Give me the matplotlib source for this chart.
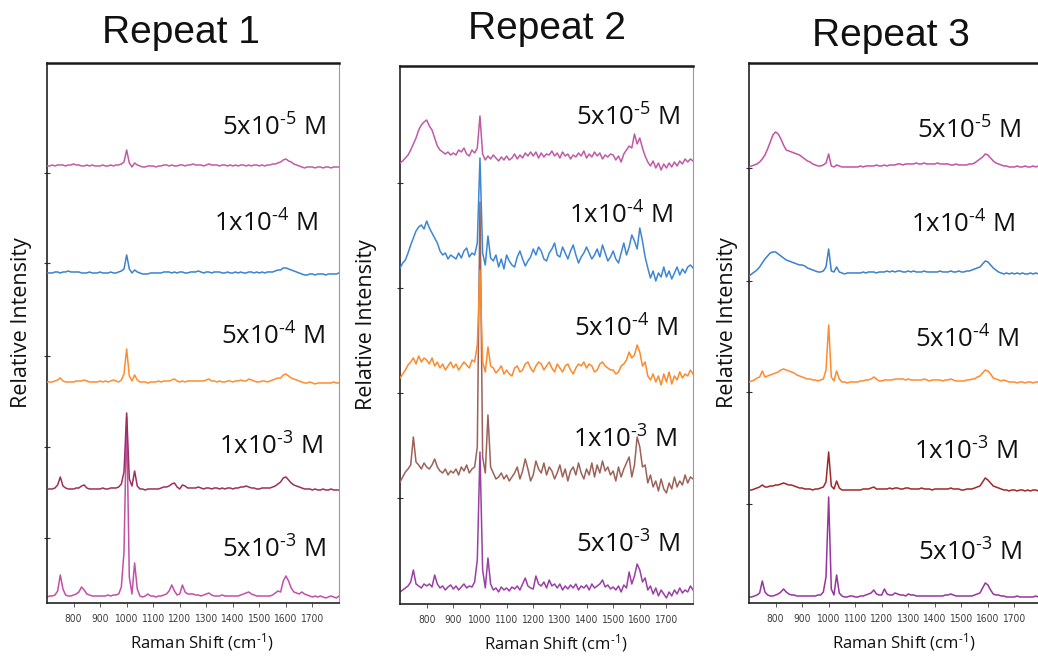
import matplotlib
matplotlib.use("Agg")
import matplotlib.pyplot as plt

plt.rcParams["mathtext.default"] = "regular"

# Raman shift grid (cm-1), shared by every spectrum
shift = list(range(700, 1810, 10))

HY = "\u2010"  # short hyphen for the exponents
labels = [f"5x10$^{{{HY}3}}$ M", f"1x10$^{{{HY}3}}$ M", f"5x10$^{{{HY}4}}$ M",
          f"1x10$^{{{HY}4}}$ M", f"5x10$^{{{HY}5}}$ M"]
titles = ["Repeat 1", "Repeat 2", "Repeat 3"]
xtick_values = list(range(800, 1800, 100))

# ---- Repeat 1 intensities (a.u., above each trace's baseline), bottom to top
r1_5e3 = [0, 1, 1, 2, 6, 22, 8, 2, 1, 1,
          2, 3, 5, 10, 7, 3, 2, 1, 1, 1,
          1, 1, 1, 2, 1, 2, 2, 3, 10, 45,
          180, 20, 3, 34, 8, 1, 0, 1, 3, 1,
          1, 0, 1, 1, 2, 3, 6, 12, 6, 2,
          3, 12, 5, 3, 3, 3, 2, 2, 1, 2,
          3, 4, 2, 1, 1, 1, 2, 1, 1, 1,
          1, 1, 1, 2, 3, 4, 5, 3, 2, 1,
          1, 1, 1, 1, 1, 2, 4, 6, 5, 16,
          21, 16, 9, 5, 4, 3, 5, 3, 2, 1,
          0, 1, 0, 1, 0, -1, 0, 1, 0, -1, 1]
r1_1e3 = [0, 0, 0, 1, 4, 12, 3, 1, 0, 0,
          0, 1, 1, 3, 4, 1, 0, 0, 0, 0,
          0, 1, 0, 0, 1, 1, 1, 2, 5, 17,
          76, 10, 3, 18, 3, 0, 0, -1, 0, 0,
          0, 0, 0, 1, 2, 2, 3, 5, 6, 2,
          0, 4, 3, 1, 1, 1, 1, 2, 1, 0,
          1, 1, 0, 1, 1, 0, 1, 0, 1, 1,
          0, 1, 1, 2, 2, 3, 2, 1, 1, 0,
          0, 1, 1, 1, 1, 2, 3, 5, 7, 11,
          12, 9, 6, 4, 3, 2, 1, 0, 0, 0,
          -1, 0, -1, -1, 0, -1, -1, 0, -1, -1, -1]
r1_5e4 = [0, 0, 0, 1, 2, 4, 1, 0, 0, 0,
          0, 1, 1, 1, 2, 1, 0, 0, 0, 0,
          1, 0, 1, 0, 1, 2, 1, 0, 2, 8,
          33, 6, 1, 7, 2, 0, 0, 0, -1, 0,
          0, 0, 1, 0, 1, 1, 1, 2, 3, 1,
          0, 1, 0, 1, 1, 1, 1, 1, 1, 1,
          2, 3, 1, 1, 0, 1, 0, 0, 1, 1,
          0, 1, 1, 2, 1, 1, 3, 2, 1, 0,
          0, 1, 1, 0, 1, 2, 3, 4, 4, 7,
          8, 6, 4, 3, 2, 1, 0, -1, -1, 0,
          -1, -2, -1, -1, -1, -1, -1, -1, 0, -1, -1]
r1_1e4 = [0, 0, 0, 1, 1, 0, 1, 1, 2, 1,
          1, 1, 1, 0, 0, 0, 1, 0, 0, 0,
          1, 0, 0, 0, 1, 0, 0, 1, 2, 4,
          18, 4, 0, 3, 1, 0, -1, -1, -1, 0,
          0, 0, 0, 0, 1, 1, 1, 0, 1, 0,
          1, 1, 0, 0, 1, 1, 1, 2, 1, 0,
          1, 1, 0, 1, 1, 1, 0, 0, 1, 0,
          0, 1, 0, 1, 0, 0, 1, 1, 0, 1,
          0, 1, 0, 1, 1, 1, 2, 3, 3, 5,
          5, 4, 3, 2, 1, 0, -1, -2, -2, -1,
          -1, -2, -1, -1, -1, -2, -1, -1, -1, -1, 0]
r1_5e5 = [0, 0, 1, 0, 1, 1, 1, 0, 1, 1,
          2, 1, 1, 0, 0, 1, 0, 1, 0, 0,
          0, 1, 0, 0, 1, 0, 1, 1, 2, 4,
          16, 3, -1, 3, 1, 0, -1, -1, 0, 0,
          0, -1, 0, 0, 1, 1, 0, 1, 0, 0,
          1, 1, 0, 1, 1, 2, 1, 1, 1, 0,
          1, 2, 1, 1, 1, 0, 1, 1, 0, 1,
          0, 1, 0, 1, 1, 0, 1, 0, 1, 1,
          0, 1, 0, 1, 1, 2, 2, 3, 4, 6,
          7, 5, 4, 2, 1, 0, -1, -2, -1, -1,
          -1, -2, -1, -1, -2, -1, -1, -2, -1, -1, -1]

# ---- Repeat 2
r2_5e3 = [-2, 0, 2, 4, 8, 20, 6, 4, 2, 6,
          4, 6, 3, 15, 6, 2, 4, 0, 3, 5,
          1, 4, 0, 3, 6, 2, 4, 3, 8, 30,
          138, 20, 2, 32, 6, 0, 2, -2, 3, 0,
          2, -1, 3, 1, 4, 0, 6, 12, 4, 2,
          1, 14, 6, 4, 8, 2, 10, 4, 6, 2,
          6, 0, 4, 1, 5, 2, 6, 0, 4, 2,
          5, 0, 6, 2, 4, 6, 10, 3, 5, 1,
          3, 0, 4, -2, 5, 2, 18, 6, 14, 26,
          20, 8, 12, 0, 4, -4, 2, -6, 0, -4,
          -8, -2, -6, 0, -4, 2, -3, 0, -2, 4, 0]
r2_1e3 = [-5, 0, 5, 8, 12, 40, 15, 12, 8, 14,
          10, 8, 12, 18, 10, 6, 4, 8, 2, 6,
          4, 8, 2, 10, 6, 12, 4, 8, 10, 30,
          275, 20, 4, 62, 10, 4, -2, 0, 4, -2,
          2, -4, 0, 4, 10, -2, 6, 18, 8, -4,
          2, 16, 8, 4, 14, 2, 10, 6, -2, 4,
          12, 0, 8, -4, 6, 10, 2, 14, 4, -2,
          8, 2, 14, 0, 12, 4, 16, 6, 10, 2,
          6, -4, 10, 0, 8, 14, 20, 0, 12, 40,
          30, 10, 12, -6, 2, -10, -4, -14, -2, -12,
          -16, -6, -12, 0, -10, -4, -8, 2, -6, 0, -2]
r2_5e4 = [-8, -4, 0, 5, 8, 12, 6, 14, 8, 12,
          10, 6, 12, 4, 8, 2, 6, 0, 4, 8,
          2, 6, 0, 4, 8, 5, 2, 10, 8, 25,
          100, 8, -2, 23, 4, 2, -3, 0, 4, -4,
          0, -4, -6, 2, 4, -2, 0, 6, 8, 2,
          -2, 4, 8, 6, 0, 4, 8, 2, -2, 6,
          2, -2, 4, 6, 0, -4, 2, 6, 4, 8,
          2, 6, 4, -2, 0, 6, 8, 4, 2, 0,
          0, -4, -2, 4, 6, 10, 18, 12, 15, 25,
          18, 4, 8, -6, -10, -4, -12, -6, -15, -4,
          -12, -2, -14, -6, -10, -2, -8, -4, -6, 0, -4]
r2_1e4 = [-5, 0, 3, 10, 18, 25, 32, 36, 38, 34,
          42, 35, 30, 25, 20, 12, 8, 10, 4, 8,
          6, 4, 10, 5, 12, 15, 6, 10, 8, 20,
          105, 10, -2, 27, 5, 2, 8, -4, 4, -6,
          8, 2, -2, -4, 6, 12, 4, -3, 2, 6,
          14, 8, 16, 12, 4, 2, 10, 14, 20, 8,
          6, 16, 10, 4, 12, 18, 8, 0, 6, 10,
          16, 10, 4, 8, 14, 6, 18, 10, 2, 6,
          12, 4, 0, 10, 20, 8, 16, 28, 22, 14,
          35, 22, 6, -5, -15, -8, -18, -10, -14, -4,
          -14, -8, -16, -10, -4, -12, -6, -10, -4, -2, -5]
r2_5e5 = [-5, -3, 0, 3, 8, 14, 20, 28, 33, 36,
          38, 32, 28, 20, 12, 8, 6, 4, 6, 3,
          5, 3, 8, 6, 10, 4, 2, 8, 5, 10,
          42, 4, -2, 2, -1, 3, 0, -3, 1, -2,
          2, -2, 0, 4, -1, 3, 0, 5, 2, 6,
          2, 6, 0, 5, 1, 4, 3, 7, 2, 5,
          0, 6, 2, 4, -1, 3, 1, 5, 2, 7,
          0, 4, 1, 6, 2, 5, -1, 3, 1, 4,
          3, -2, 2, -4, 4, 8, 12, 10, 24, 14,
          20, 10, 2, -4, -8, -3, -10, -5, -12, -6,
          -10, -5, -9, -4, -8, -3, -6, -1, -4, -1, -3]

# ---- Repeat 3
r3_5e3 = [0, 0, 1, 2, 4, 16, 5, 2, 1, 1,
          2, 3, 5, 8, 5, 3, 2, 2, 1, 1,
          1, 1, 1, 1, 1, 1, 2, 2, 5, 20,
          100, 8, 2, 22, 4, 1, 0, 0, 1, 1,
          0, 0, 1, 1, 2, 3, 4, 7, 3, 2,
          2, 8, 3, 2, 2, 4, 3, 2, 2, 1,
          3, 2, 2, 1, 1, 1, 1, 1, 1, 1,
          1, 1, 1, 1, 2, 2, 3, 2, 1, 1,
          1, 1, 1, 1, 1, 2, 3, 4, 9, 14,
          12, 7, 3, 2, 2, 1, 1, 0, 0, 0,
          0, 1, 0, 0, 0, 0, 0, 0, 1, 0, 0]
r3_1e3 = [0, 0, 1, 2, 3, 5, 3, 3, 4, 4,
          5, 5, 6, 7, 6, 5, 5, 4, 3, 2,
          2, 1, 1, 1, 0, 1, 1, 2, 3, 8,
          38, 4, 1, 9, 2, 0, 0, 0, 0, 0,
          0, 0, 0, 1, 1, 1, 2, 3, 1, 1,
          1, 1, 1, 2, 1, 2, 2, 1, 1, 2,
          2, 1, 1, 1, 1, 2, 1, 1, 1, 0,
          1, 1, 1, 1, 1, 1, 2, 1, 1, 1,
          0, 0, 1, 1, 1, 2, 3, 4, 8, 12,
          10, 7, 4, 3, 2, 1, 0, 0, -1, 0,
          0, -1, 0, 0, -1, 0, -1, 0, 0, -1, 0]
r3_5e4 = [0, 1, 2, 4, 5, 11, 5, 6, 7, 8,
          9, 10, 12, 13, 12, 11, 10, 9, 7, 6,
          5, 4, 3, 3, 2, 2, 1, 2, 3, 12,
          57, 5, 1, 11, 3, 0, 0, -1, 0, 0,
          0, 0, 1, 1, 2, 2, 3, 5, 3, 1,
          1, 2, 2, 2, 2, 3, 3, 3, 3, 2,
          3, 2, 2, 2, 2, 2, 3, 2, 1, 2,
          2, 2, 2, 1, 2, 2, 3, 2, 1, 1,
          1, 1, 2, 2, 3, 3, 5, 6, 9, 12,
          11, 8, 4, 3, 2, 1, 2, 1, 0, 0,
          0, -1, 0, 0, -1, 0, 0, -1, 0, 0, -1]
r3_1e4 = [-3, -1, 1, 3, 6, 10, 14, 17, 20, 21,
          21, 19, 17, 15, 13, 12, 11, 10, 9, 8,
          8, 7, 5, 4, 3, 2, 1, 1, 2, 6,
          24, 2, 1, 6, 1, 0, -1, 0, 0, 0,
          0, 0, 0, 1, 0, 1, 1, 1, 0, 1,
          1, 1, 2, 1, 2, 1, 2, 2, 1, 1,
          2, 1, 2, 1, 1, 1, 2, 1, 1, 1,
          1, 1, 2, 1, 1, 1, 2, 1, 1, 2,
          1, 1, 2, 2, 3, 4, 5, 6, 9, 12,
          11, 8, 5, 3, 1, 0, -1, 0, -1, 0,
          -1, 0, -1, 0, -1, -1, 0, -1, 0, -1, -1]
r3_5e5 = [0, 1, 2, 3, 5, 8, 12, 18, 25, 32,
          35, 33, 28, 22, 17, 16, 15, 14, 13, 12,
          10, 8, 6, 5, 3, 2, 1, 1, 2, 4,
          13, 1, 0, 2, 1, 0, 0, 0, 0, 0,
          0, 0, 1, 0, 1, 1, 1, 1, 2, 1,
          1, 2, 1, 2, 2, 2, 3, 3, 2, 3,
          3, 3, 3, 4, 3, 3, 4, 3, 3, 3,
          3, 4, 3, 3, 3, 3, 2, 2, 3, 2,
          2, 2, 2, 3, 3, 4, 6, 8, 10, 13,
          12, 9, 6, 4, 3, 2, 1, 1, 0, 0,
          0, 1, 0, 0, 1, 0, 0, 1, 0, 1, 1]

repeats = [
    [r1_5e3, r1_1e3, r1_5e4, r1_1e4, r1_5e5],
    [r2_5e3, r2_1e3, r2_5e4, r2_1e4, r2_5e5],
    [r3_5e3, r3_1e3, r3_5e4, r3_1e4, r3_5e5],
]

# layout / style per panel
offsets = [[6, 114, 221, 330, 437], [14, 127, 234, 341, 446], [6, 113, 221, 330, 436]]
colors = [
    ["#c050a8", "#9c2f5f", "#ff8c2e", "#3a82d0", "#c45aa5"],
    ["#9a3fa6", "#9c6258", "#fb8a2c", "#3d86d4", "#c05aa5"],
    ["#9535a0", "#a02828", "#ff8a30", "#3a80cc", "#c452a6"],
]
axes_rect = [[0.0453, 0.0836, 0.2813, 0.8207],
             [0.3854, 0.0821, 0.2823, 0.8176],
             [0.7216, 0.0836, 0.2813, 0.8207]]
ylims = [540, 538, 540]
yticks = [[65, 156, 247, 340, 430], [106, 211, 316, 421], [99, 211, 322, 435]]
label_x = [[0.777, 0.767, 0.774, 0.750, 0.777],
           [0.778, 0.768, 0.771, 0.754, 0.778],
           [0.757, 0.743, 0.747, 0.733, 0.753]]
label_y = [[53, 156, 266, 379, 475], [59, 164, 275, 388, 486], [50, 151, 263, 378, 472]]
title_pos = [(0.174, 0.935), (0.527, 0.940), (0.858, 0.930)]
ylabel_x = [-0.089, -0.113, -0.072]

fig = plt.figure(figsize=(10.38, 6.58), dpi=100)

for p in range(3):
    ax = fig.add_axes(axes_rect[p])
    for k in range(5):
        y = [v + offsets[p][k] for v in repeats[p][k]]
        ax.plot(shift, y, color=colors[p][k], lw=1.1, zorder=2 + k)
    ax.set_xlim(700, 1800)
    ax.set_ylim(0, ylims[p])
    ax.set_xticks(xtick_values)
    ax.set_xticklabels([str(t) for t in xtick_values], family="DejaVu Sans",
                       fontstretch="condensed", fontsize=7.3, color="#3a3a3a")
    ax.set_yticks(yticks[p])
    ax.set_yticklabels([])
    ax.tick_params(axis="x", direction="out", length=3, width=0.7, color="#555555", pad=5)
    ax.tick_params(axis="y", direction="inout", length=4, width=0.8, color="#333333")
    for s in ["left", "bottom"]:
        ax.spines[s].set_linewidth(1.2)
        ax.spines[s].set_color("#222222")
    ax.spines["top"].set_linewidth(1.8)
    ax.spines["top"].set_color("#1a1a1a")
    ax.spines["right"].set_linewidth(0.8)
    ax.spines["right"].set_color("#9a9a9a")

    # concentration labels
    for k in range(5):
        ax.text(label_x[p][k], label_y[p][k] / ylims[p], labels[k], transform=ax.transAxes,
                ha="center", va="center", family="Open Sans", fontsize=18.5, color="#111111")

    ax.text(ylabel_x[p], 0.52, "Relative Intensity", transform=ax.transAxes, rotation=90,
            ha="center", va="center", family="Open Sans", fontsize=15.5, color="#111111")
    ax.text(0.53, -0.072, f"Raman Shift (cm$^{{{HY}1}}$)", transform=ax.transAxes,
            ha="center", va="center", family="Open Sans", fontsize=12, color="#111111")
    fig.text(title_pos[p][0], title_pos[p][1], titles[p], ha="center", va="baseline",
             family="Liberation Sans", fontsize=28, color="#111111")

fig.savefig("out.png", dpi=100)
